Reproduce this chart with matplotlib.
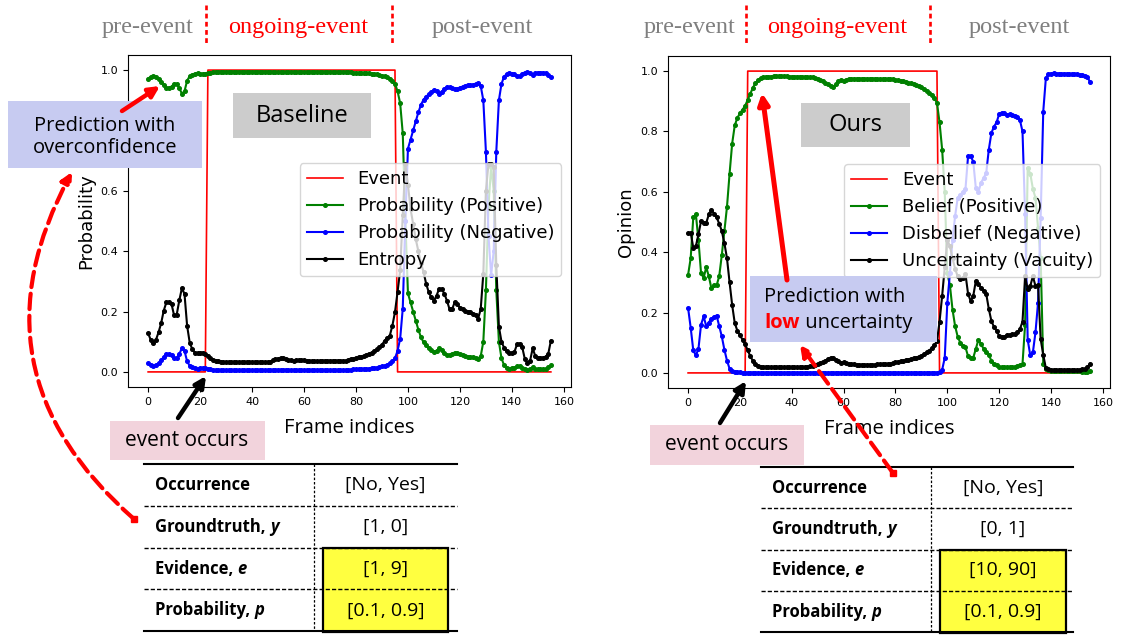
import matplotlib
matplotlib.use('Agg')
import matplotlib.pyplot as plt
from matplotlib.patches import Rectangle, FancyArrowPatch

frames = list(range(156))

# Baseline panel
event_base = [0] * 23 + [1] * 73 + [0] * 60
prob_pos = [
    0.972, 0.978, 0.980, 0.978, 0.971, 0.962, 0.950, 0.942, 0.942, 0.945,
    0.955, 0.954, 0.940, 0.922, 0.930, 0.965, 0.980, 0.985, 0.988, 0.989,
    0.988, 0.988, 0.988, 0.990, 0.992, 0.993, 0.994, 0.994, 0.995, 0.995,
    0.995, 0.995, 0.995, 0.995, 0.995, 0.995, 0.995, 0.995, 0.995, 0.995,
    0.995, 0.995, 0.995, 0.995, 0.995, 0.995, 0.995, 0.995, 0.994, 0.993,
    0.993, 0.993, 0.993, 0.993, 0.994, 0.994, 0.994, 0.994, 0.994, 0.994,
    0.994, 0.994, 0.994, 0.995, 0.995, 0.995, 0.994, 0.994, 0.994, 0.994,
    0.994, 0.994, 0.994, 0.994, 0.994, 0.994, 0.994, 0.993, 0.993, 0.992,
    0.992, 0.991, 0.991, 0.990, 0.990, 0.989, 0.988, 0.987, 0.986, 0.984,
    0.982, 0.979, 0.976, 0.972, 0.965, 0.955, 0.930, 0.890, 0.790, 0.500,
    0.260, 0.230, 0.200, 0.170, 0.140, 0.115, 0.098, 0.088, 0.080, 0.072,
    0.066, 0.070, 0.078, 0.072, 0.062, 0.055, 0.057, 0.060, 0.064, 0.062,
    0.058, 0.055, 0.053, 0.051, 0.050, 0.048, 0.046, 0.044, 0.052, 0.100,
    0.270, 0.550, 0.680, 0.600, 0.270, 0.100, 0.045, 0.022, 0.013, 0.011,
    0.012, 0.014, 0.018, 0.020, 0.012, 0.008, 0.007, 0.008, 0.016, 0.010,
    0.008, 0.008, 0.008, 0.010, 0.015, 0.022,
]
prob_neg = [
    0.028, 0.022, 0.020, 0.022, 0.029, 0.038, 0.050, 0.058, 0.058, 0.055,
    0.045, 0.046, 0.060, 0.078, 0.070, 0.035, 0.020, 0.015, 0.012, 0.011,
    0.012, 0.012, 0.012, 0.010, 0.008, 0.007, 0.006, 0.006, 0.005, 0.005,
    0.005, 0.005, 0.005, 0.005, 0.005, 0.005, 0.005, 0.005, 0.005, 0.005,
    0.005, 0.005, 0.005, 0.005, 0.005, 0.005, 0.005, 0.005, 0.006, 0.007,
    0.007, 0.007, 0.007, 0.007, 0.006, 0.006, 0.006, 0.006, 0.006, 0.006,
    0.006, 0.006, 0.006, 0.005, 0.005, 0.005, 0.006, 0.006, 0.006, 0.006,
    0.006, 0.006, 0.006, 0.006, 0.006, 0.006, 0.006, 0.007, 0.007, 0.008,
    0.008, 0.009, 0.009, 0.010, 0.010, 0.011, 0.012, 0.013, 0.014, 0.016,
    0.018, 0.021, 0.024, 0.028, 0.035, 0.045, 0.070, 0.110, 0.210, 0.500,
    0.740, 0.770, 0.800, 0.830, 0.860, 0.885, 0.902, 0.912, 0.920, 0.928,
    0.934, 0.930, 0.922, 0.928, 0.938, 0.945, 0.943, 0.940, 0.936, 0.938,
    0.942, 0.945, 0.947, 0.949, 0.950, 0.952, 0.954, 0.956, 0.948, 0.900,
    0.730, 0.450, 0.320, 0.400, 0.730, 0.900, 0.955, 0.978, 0.987, 0.989,
    0.988, 0.986, 0.982, 0.980, 0.988, 0.992, 0.993, 0.992, 0.984, 0.990,
    0.992, 0.992, 0.992, 0.990, 0.985, 0.978,
]
entropy = [
    0.128, 0.106, 0.097, 0.106, 0.131, 0.161, 0.203, 0.230, 0.230, 0.225,
    0.187, 0.190, 0.237, 0.278, 0.258, 0.153, 0.097, 0.075, 0.064, 0.061,
    0.064, 0.064, 0.060, 0.053, 0.045, 0.040, 0.037, 0.035, 0.034, 0.033,
    0.032, 0.032, 0.032, 0.032, 0.032, 0.032, 0.032, 0.032, 0.032, 0.032,
    0.032, 0.032, 0.032, 0.032, 0.032, 0.032, 0.032, 0.034, 0.038, 0.042,
    0.044, 0.045, 0.045, 0.043, 0.040, 0.038, 0.037, 0.038, 0.039, 0.039,
    0.038, 0.037, 0.036, 0.035, 0.035, 0.035, 0.036, 0.037, 0.037, 0.037,
    0.037, 0.037, 0.037, 0.037, 0.037, 0.037, 0.037, 0.039, 0.042, 0.044,
    0.046, 0.048, 0.050, 0.052, 0.056, 0.060, 0.064, 0.069, 0.075, 0.082,
    0.090, 0.103, 0.112, 0.120, 0.153, 0.198, 0.265, 0.337, 0.520, 0.690,
    0.620, 0.540, 0.490, 0.440, 0.400, 0.360, 0.331, 0.292, 0.264, 0.247,
    0.236, 0.253, 0.275, 0.275, 0.259, 0.236, 0.208, 0.208, 0.231, 0.225,
    0.212, 0.208, 0.203, 0.200, 0.198, 0.192, 0.187, 0.176, 0.208, 0.325,
    0.600, 0.690, 0.690, 0.680, 0.353, 0.150, 0.100, 0.080, 0.069, 0.064,
    0.064, 0.067, 0.092, 0.094, 0.081, 0.042, 0.031, 0.037, 0.078, 0.053,
    0.047, 0.047, 0.047, 0.050, 0.060, 0.103,
]

# Ours panel
event_ours = [0] * 23 + [1] * 74 + [0] * 59
belief = [
    0.325, 0.380, 0.515, 0.525, 0.440, 0.330, 0.315, 0.350, 0.320, 0.280,
    0.290, 0.290, 0.320, 0.390, 0.470, 0.550, 0.660, 0.760, 0.820, 0.845,
    0.860, 0.872, 0.885, 0.905, 0.925, 0.945, 0.960, 0.970, 0.976, 0.979,
    0.981, 0.982, 0.982, 0.983, 0.983, 0.983, 0.983, 0.983, 0.983, 0.982,
    0.982, 0.982, 0.982, 0.982, 0.981, 0.981, 0.981, 0.980, 0.979, 0.977,
    0.975, 0.972, 0.968, 0.962, 0.956, 0.950, 0.947, 0.956, 0.966, 0.970,
    0.968, 0.971, 0.973, 0.975, 0.975, 0.975, 0.975, 0.975, 0.975, 0.975,
    0.975, 0.975, 0.975, 0.974, 0.974, 0.974, 0.974, 0.974, 0.974, 0.973,
    0.972, 0.970, 0.968, 0.966, 0.964, 0.962, 0.960, 0.957, 0.954, 0.950,
    0.946, 0.940, 0.935, 0.928, 0.920, 0.910, 0.895, 0.830, 0.740, 0.600,
    0.330, 0.290, 0.210, 0.155, 0.120, 0.100, 0.090, 0.085, 0.055, 0.048,
    0.050, 0.080, 0.110, 0.095, 0.080, 0.070, 0.060, 0.040, 0.030, 0.025,
    0.020, 0.019, 0.019, 0.019, 0.019, 0.019, 0.020, 0.023, 0.026, 0.030,
    0.160, 0.680, 0.660, 0.610, 0.580, 0.480, 0.380, 0.030, 0.014, 0.008,
    0.005, 0.005, 0.005, 0.005, 0.005, 0.005, 0.005, 0.005, 0.005, 0.005,
    0.005, 0.005, 0.004, 0.004, 0.004, 0.005,
]
disbelief = [
    0.215, 0.150, 0.075, 0.058, 0.080, 0.160, 0.187, 0.155, 0.167, 0.180,
    0.186, 0.190, 0.155, 0.121, 0.077, 0.041, 0.014, 0.006, 0.004, 0.003,
    0.002, 0.001, 0.001, 0.001, 0.001, 0.001, 0.001, 0.001, 0.001, 0.001,
    0.001, 0.001, 0.001, 0.001, 0.001, 0.001, 0.001, 0.001, 0.001, 0.001,
    0.001, 0.001, 0.001, 0.001, 0.001, 0.001, 0.001, 0.001, 0.001, 0.001,
    0.001, 0.001, 0.001, 0.001, 0.001, 0.001, 0.001, 0.001, 0.001, 0.001,
    0.001, 0.001, 0.001, 0.001, 0.001, 0.001, 0.001, 0.001, 0.001, 0.001,
    0.001, 0.001, 0.001, 0.001, 0.001, 0.001, 0.001, 0.001, 0.001, 0.001,
    0.001, 0.001, 0.001, 0.001, 0.001, 0.001, 0.001, 0.001, 0.001, 0.001,
    0.001, 0.001, 0.001, 0.001, 0.001, 0.001, 0.001, 0.003, 0.010, 0.050,
    0.233, 0.330, 0.440, 0.520, 0.580, 0.590, 0.600, 0.610, 0.718, 0.718,
    0.700, 0.612, 0.600, 0.630, 0.646, 0.662, 0.740, 0.795, 0.816, 0.830,
    0.858, 0.862, 0.860, 0.855, 0.857, 0.855, 0.852, 0.848, 0.838, 0.800,
    0.525, 0.110, 0.058, 0.068, 0.134, 0.233, 0.514, 0.866, 0.976, 0.990,
    0.992, 0.993, 0.992, 0.992, 0.991, 0.992, 0.991, 0.990, 0.990, 0.990,
    0.989, 0.988, 0.987, 0.985, 0.980, 0.965,
]
vacuity = [
    0.462, 0.465, 0.415, 0.420, 0.459, 0.503, 0.497, 0.497, 0.525, 0.541,
    0.528, 0.515, 0.495, 0.470, 0.430, 0.380, 0.300, 0.225, 0.165, 0.140,
    0.125, 0.110, 0.095, 0.075, 0.055, 0.040, 0.030, 0.024, 0.021, 0.019,
    0.018, 0.018, 0.018, 0.018, 0.018, 0.018, 0.018, 0.018, 0.018, 0.018,
    0.018, 0.018, 0.018, 0.018, 0.018, 0.018, 0.020, 0.022, 0.024, 0.026,
    0.028, 0.032, 0.036, 0.041, 0.046, 0.050, 0.050, 0.044, 0.038, 0.034,
    0.035, 0.032, 0.030, 0.029, 0.028, 0.027, 0.027, 0.027, 0.027, 0.027,
    0.027, 0.027, 0.027, 0.028, 0.028, 0.028, 0.028, 0.029, 0.031, 0.033,
    0.035, 0.037, 0.038, 0.040, 0.042, 0.044, 0.046, 0.048, 0.050, 0.053,
    0.057, 0.062, 0.068, 0.074, 0.082, 0.092, 0.105, 0.170, 0.255, 0.350,
    0.440, 0.420, 0.380, 0.345, 0.320, 0.310, 0.315, 0.327, 0.262, 0.238,
    0.255, 0.305, 0.295, 0.282, 0.272, 0.262, 0.212, 0.172, 0.152, 0.140,
    0.122, 0.118, 0.120, 0.126, 0.127, 0.128, 0.130, 0.134, 0.145, 0.170,
    0.320, 0.277, 0.288, 0.320, 0.288, 0.290, 0.112, 0.060, 0.016, 0.012,
    0.010, 0.010, 0.010, 0.010, 0.010, 0.010, 0.010, 0.010, 0.010, 0.010,
    0.010, 0.011, 0.012, 0.013, 0.018, 0.030,
]

base_labels = ['Event', 'Probability (Positive)', 'Probability (Negative)', 'Entropy']
ours_labels = ['Event', 'Belief (Positive)', 'Disbelief (Negative)', 'Uncertainty (Vacuity)']
y_ticks = [0.0, 0.2, 0.4, 0.6, 0.8, 1.0]
# the 0.8 label of the baseline panel sits under the callout box
base_ytick_labels = ['0.0', '0.2', '0.4', '0.6', '', '1.0']
ours_ytick_labels = ['0.0', '0.2', '0.4', '0.6', '0.8', '1.0']
phase_labels = ['pre-event', 'ongoing-event', 'post-event']
row_names = ['Occurrence', 'Groundtruth, ', 'Evidence, ', 'Probability, ']
row_symbols = ['', 'y', 'e', 'p']
base_values = ['[No, Yes]', '[1, 0]', '[1, 9]', '[0.1, 0.9]']
ours_values = ['[No, Yes]', '[0, 1]', '[10, 90]', '[0.1, 0.9]']

SANS = 'Open Sans'
SERIF = 'Liberation Serif'
LAVENDER = '#c7cbf1'
PINK = '#f2d3dc'
YELLOW = '#ffff40'


def draw_panel(ax, event, pos, neg, third, labels, ylabel, ytick_labels):
    ax.plot(frames, event, color='red', lw=1.2, label=labels[0])
    ax.plot(frames, pos, color='green', marker='o', ms=2.6, lw=1.5, label=labels[1])
    ax.plot(frames, neg, color='blue', marker='o', ms=2.6, lw=1.5, label=labels[2])
    ax.plot(frames, third, color='black', marker='o', ms=2.6, lw=1.5, label=labels[3])
    ax.set_xticks(range(0, 161, 20))
    ax.set_yticks(y_ticks)
    ax.set_yticklabels(ytick_labels)
    ax.tick_params(labelsize=8)
    ax.set_ylabel(ylabel, fontsize=13)
    ax.set_xlabel('Frame indices', fontsize=14.5, family=SANS, labelpad=8)
    ax.legend(loc='upper right', bbox_to_anchor=(0.978, 0.675), fontsize=13,
              borderaxespad=0)


def box(ov, x, y, w, h, color):
    ov.add_patch(Rectangle((x, y), w, h, facecolor=color, edgecolor='none', zorder=3))


def arrow(ov, start, end, color, lw, dashed=False, rad=0.0, head=16):
    ov.add_patch(FancyArrowPatch(start, end, arrowstyle='-|>', mutation_scale=head,
                                 color=color, lw=lw, linestyle='--' if dashed else '-',
                                 connectionstyle=f'arc3,rad={rad}', shrinkA=0, shrinkB=0,
                                 zorder=6))


def header(ov, centers, dashes):
    colors = ['#7f7f7f', 'red', '#7f7f7f']
    for label, cx, c in zip(phase_labels, centers, colors):
        ov.text(cx, 28, label, color=c, fontsize=17.5, family=SERIF, ha='center', va='center')
    for dx in dashes:
        ov.plot([dx, dx], [5, 44], color='red', lw=1.9, ls=(0, (1.8, 1.3)))


def table(ov, x0, xdiv, x1, top, row_h, values, hi_x0, hi_x1):
    ys = [top + row_h * i for i in range(5)]
    hi_bottom = min(ys[4] + 1, 640)
    ov.add_patch(Rectangle((hi_x0, ys[2]), hi_x1 - hi_x0, hi_bottom - ys[2],
                           facecolor=YELLOW, edgecolor='black', lw=1.6, zorder=2))
    ov.plot([x0, x1], [ys[0], ys[0]], color='black', lw=1.5, zorder=3)
    ov.plot([x0, x1], [ys[4], ys[4]], color='black', lw=1.5, zorder=3)
    for yy in ys[1:4]:
        ov.plot([x0, x1], [yy, yy], color='black', lw=1.0, ls=(0, (3, 1.5)), zorder=3)
    ov.plot([xdiv, xdiv], [ys[0], ys[4]], color='black', lw=0.9, ls=(0, (2, 1.5)), zorder=3)
    vx = (hi_x0 + hi_x1) / 2
    for i in range(4):
        cy = (ys[i] + ys[i + 1]) / 2
        t = ov.text(x0 + 11, cy, row_names[i], fontsize=12, family=SANS, weight='bold',
                    ha='left', va='center', zorder=4)
        if row_symbols[i]:
            ov.annotate(row_symbols[i], xy=(1, 0), xycoords=t, ha='left', va='bottom',
                        fontsize=12, family=SANS, weight='bold', style='italic', zorder=4)
        ov.text(vx, cy, values[i], fontsize=14, family=SANS, ha='center', va='center', zorder=4)


fig = plt.figure(figsize=(11.28, 6.35), dpi=100)
ax1 = fig.add_axes([128 / 1128, 1 - 387 / 635, 443 / 1128, 332 / 635])
ax2 = fig.add_axes([668 / 1128, 1 - 388 / 635, 442 / 1128, 332 / 635])
draw_panel(ax1, event_base, prob_pos, prob_neg, entropy, base_labels, 'Probability',
           base_ytick_labels)
draw_panel(ax2, event_ours, belief, disbelief, vacuity, ours_labels, 'Opinion',
           ours_ytick_labels)

# overlay in pixel coordinates for the annotations
ov = fig.add_axes([0, 0, 1, 1])
ov.set_xlim(0, 1128)
ov.set_ylim(635, 0)
ov.axis('off')

header(ov, [148, 298, 482], [206, 392])
header(ov, [690, 837, 1019], [746, 930])

box(ov, 233, 93, 138, 45, '#cccccc')
ov.text(302, 116, 'Baseline', fontsize=17, family=SANS, ha='center', va='center', zorder=4)
box(ov, 801, 103, 109, 44, '#cccccc')
ov.text(855, 125, 'Ours', fontsize=17, family=SANS, ha='center', va='center', zorder=4)

box(ov, 8, 101, 194, 67, LAVENDER)
ov.text(105, 137, 'Prediction with\noverconfidence', fontsize=14.5, family=SANS,
        ha='center', va='center', multialignment='center', linespacing=1.15, zorder=4)

box(ov, 750, 276, 187, 66, LAVENDER)
ov.text(764, 297, 'Prediction with', fontsize=14.5, family=SANS, ha='left', va='center', zorder=4)
t_low = ov.text(764, 323, 'low', fontsize=14.5, family=SANS, weight='bold', color='red',
                ha='left', va='center', zorder=4)
ov.annotate(' uncertainty', xy=(1, 0), xycoords=t_low, fontsize=14.5, family=SANS,
            ha='left', va='bottom', zorder=4)

box(ov, 110, 421, 155, 39, PINK)
ov.text(187, 441, 'event occurs', fontsize=15, family=SANS, ha='center', va='center', zorder=4)
box(ov, 650, 425, 154, 40, PINK)
ov.text(727, 445, 'event occurs', fontsize=15, family=SANS, ha='center', va='center', zorder=4)

arrow(ov, (122, 111), (160, 86), 'red', 3.2)
arrow(ov, (134, 519), (72, 172), 'red', 3.0, dashed=True, rad=-0.4)
ov.plot([134], [519], marker='s', color='red', ms=5, zorder=6)
arrow(ov, (178, 418), (206, 376), 'black', 3.2)
arrow(ov, (720, 423), (746, 381), 'black', 3.2)
arrow(ov, (787, 280), (762, 93), 'red', 3.6)
arrow(ov, (893, 473), (800, 345), 'red', 3.0, dashed=True)
ov.plot([893], [473], marker='s', color='red', ms=5, zorder=6)

table(ov, 144, 314, 457, 464, 41.8, base_values, 323, 448)
table(ov, 761, 931, 1073, 467, 41.3, ours_values, 940, 1066)

fig.savefig('out.png', dpi=100)
